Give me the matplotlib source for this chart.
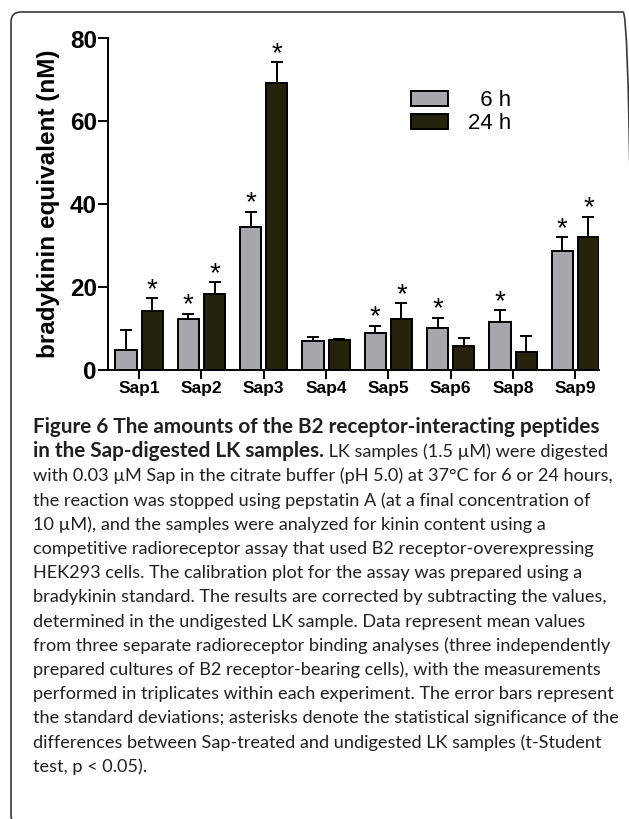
import numpy as np
import matplotlib
matplotlib.use('Agg')
import matplotlib.pyplot as plt
import matplotlib.transforms as mtransforms
from matplotlib.patches import FancyBboxPatch

# values (nM), error = SD (upper side only)
samples = ['Sap1', 'Sap2', 'Sap3', 'Sap4', 'Sap5', 'Sap6', 'Sap8', 'Sap9']
mean_6h = [4.8, 12.2, 34.5, 7.1, 9.0, 10.1, 11.5, 28.7]
sd_6h = [4.9, 1.3, 3.7, 0.9, 1.6, 2.5, 2.9, 3.3]
mean_24h = [14.3, 18.4, 69.2, 7.2, 12.2, 5.9, 4.3, 32.0]
sd_24h = [3.0, 2.8, 5.1, 0.4, 3.9, 1.9, 4.0, 5.0]
signif_6h = [False, True, True, False, True, True, True, True]
signif_24h = [True, True, True, False, True, False, False, True]
yticks = [0, 20, 40, 60, 80]

caption_bold_1 = 'Figure 6 The amounts of the B2 receptor-interacting peptides'
caption_bold_2 = 'in the Sap-digested LK samples.'
caption_rest_2 = ' LK samples (1.5 \u00b5M) were digested'
caption_lines = [
    'with 0.03 \u00b5M Sap in the citrate buffer (pH 5.0) at 37\u00b0C for 6 or 24 hours,',
    'the reaction was stopped using pepstatin A (at a final concentration of',
    '10 \u00b5M), and the samples were analyzed for kinin content using a',
    'competitive radioreceptor assay that used B2 receptor-overexpressing',
    'HEK293 cells. The calibration plot for the assay was prepared using a',
    'bradykinin standard. The results are corrected by subtracting the values,',
    'determined in the undigested LK sample. Data represent mean values',
    'from three separate radioreceptor binding analyses (three independently',
    'prepared cultures of B2 receptor-bearing cells), with the measurements',
    'performed in triplicates within each experiment. The error bars represent',
    'the standard deviations; asterisks denote the statistical significance of the',
    'differences between Sap-treated and undigested LK samples (t-Student',
    'test, p < 0.05).',
]

W, H = 629, 819
plt.rcParams['font.family'] = ['Liberation Sans', 'DejaVu Sans']
fig = plt.figure(figsize=(W / 100, H / 100), dpi=100)
ax = fig.add_axes([108 / W, 1 - 370 / H, 491 / W, 331.5 / H])

x = np.arange(len(samples))
n = len(samples)
off, bw = 0.21, 0.34
col_6h, col_24h = '#a6a6ac', '#25230b'
lw = 1.4

ax.bar(x - off, mean_6h, bw, color=col_6h, edgecolor='black', linewidth=lw,
       label='  6 h', zorder=3)
ax.bar(x + off, mean_24h, bw, color=col_24h, edgecolor='black', linewidth=lw,
       label='24 h', zorder=3)
ax.errorbar(x - off, mean_6h, yerr=[np.zeros(n), sd_6h], fmt='none',
            ecolor='black', elinewidth=lw, capsize=4.3, capthick=lw, zorder=2)
ax.errorbar(x + off, mean_24h, yerr=[np.zeros(n), sd_24h], fmt='none',
            ecolor='black', elinewidth=lw, capsize=4.3, capthick=lw, zorder=2)

for xs, means, sds, flags in [(x - off, mean_6h, sd_6h, signif_6h),
                              (x + off, mean_24h, sd_24h, signif_24h)]:
    for xi, m, s, f in zip(xs, means, sds, flags):
        if f:
            ax.annotate('*', (xi, m + s), xytext=(0, 1), textcoords='offset points',
                        ha='center', va='baseline', fontsize=20)

ax.set_xlim(-0.5, 7.38)
ax.set_ylim(0, 80)
ax.set_yticks(yticks)
ax.set_xticks(x)
ax.set_xticklabels(samples, fontsize=12.5, fontweight='bold')
for lbl in ax.get_yticklabels():
    lbl.set_fontsize(17.5)
    lbl.set_fontweight('bold')
ax.tick_params(axis='y', length=7, width=lw, pad=1)
ax.tick_params(axis='x', length=6.5, width=lw, pad=1.5)
for side in ['top', 'right']:
    ax.spines[side].set_visible(False)
for side in ['left', 'bottom']:
    ax.spines[side].set_linewidth(lw)

ax.set_ylabel('bradykinin equivalent (nM)', fontsize=17.5, fontweight='bold')
ax.yaxis.set_label_coords(-0.098, 0.5)

ax.legend(loc='upper left', bbox_to_anchor=(411 / W, 1 - 90 / H),
          bbox_transform=fig.transFigure, frameon=False, fontsize=16,
          handlelength=1.67, handleheight=0.68, handletextpad=0.9,
          labelspacing=0.1, borderpad=0, borderaxespad=0)

# rounded frame around the panel
frame = FancyBboxPatch((11, -6), 622, H - 12 + 6, boxstyle='round,pad=0,rounding_size=10',
                       fill=False, edgecolor='#3a3a3a', linewidth=1.2,
                       transform=mtransforms.IdentityTransform())
fig.add_artist(frame)

# caption, positioned in pixels from the top-left corner
trans = mtransforms.Affine2D().scale(1 / W, -1 / H).translate(0, 1) + fig.transFigure
cap_font = ['Lato', 'DejaVu Sans']
renderer = fig.canvas.get_renderer()


def fit_size(text, weight, target):
    t = fig.text(0, 0, text, fontsize=20, family=cap_font, weight=weight)
    w = t.get_window_extent(renderer).width
    t.remove()
    return 20 * target / w


fs_body = fit_size(caption_lines[7], 'normal', 580)
fs_bold = fit_size(caption_bold_1, 'bold', 567)

x0, y0, step = 33, 433, 24.2
fig.text(x0, y0, caption_bold_1, transform=trans, family=cap_font, weight='bold',
         fontsize=fs_bold, va='baseline', color='#231f20')
tb = fig.text(x0, y0 + step, caption_bold_2, transform=trans, family=cap_font,
              weight='bold', fontsize=fs_bold, va='baseline', color='#231f20')
xb = tb.get_window_extent(renderer).x1
fig.text(xb, y0 + step, caption_rest_2, transform=trans, family=cap_font,
         fontsize=fs_body, va='baseline', color='#231f20')
for i, line in enumerate(caption_lines):
    fig.text(x0, y0 + step * (i + 2), line, transform=trans, family=cap_font,
             fontsize=fs_body, va='baseline', color='#231f20')

fig.savefig('out.png', dpi=100)
